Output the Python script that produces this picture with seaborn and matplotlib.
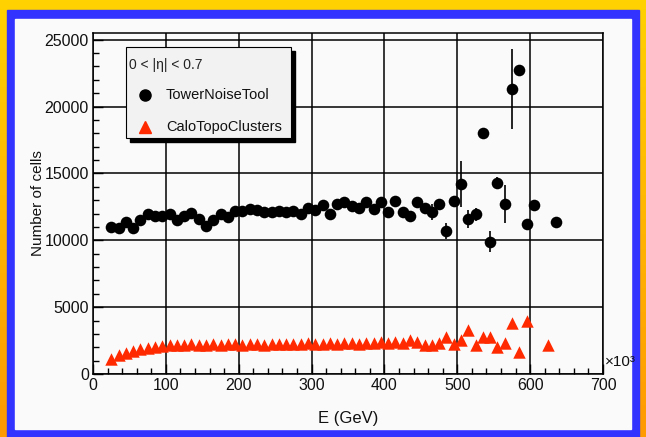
import numpy as np
import seaborn as sns
import matplotlib.pyplot as plt
from matplotlib.patches import Rectangle
from matplotlib.colors import LinearSegmentedColormap
from matplotlib.ticker import MultipleLocator

# ---------------------------------------
# Data
# ---------------------------------------
tower_e = [25, 35, 45, 55, 65, 75, 85, 95, 105, 115, 125, 135, 145, 155, 165,
           175, 185, 195, 205, 215, 225, 235, 245, 255, 265, 275, 285, 295,
           305, 315, 325, 335, 345, 355, 365, 375, 385, 395, 405, 415, 425,
           435, 445, 455, 465, 475, 485, 495, 505, 515, 525, 535, 545, 555,
           565, 575, 585, 595, 605, 635]
tower_n = [11000, 10900, 11400, 10950, 11500, 12000, 11800, 11850, 11950,
           11500, 11800, 12050, 11600, 11100, 11500, 12000, 11750, 12200,
           12200, 12350, 12250, 12100, 12150, 12200, 12100, 12200, 11950,
           12450, 12300, 12650, 12000, 12750, 12850, 12550, 12450, 12850,
           12350, 12850, 12100, 12900, 12100, 11850, 12850, 12450, 12100,
           12700, 10700, 12900, 14200, 11600, 11950, 18000, 9900, 14300,
           12700, 21300, 22700, 11200, 12650, 11400]
tower_err = [200, 200, 200, 200, 200, 200, 200, 200, 200, 200, 200, 200,
             200, 200, 200, 200, 200, 200, 200, 200, 200, 200, 200, 200,
             200, 200, 200, 200, 200, 200, 200, 200, 200, 200, 250, 250,
             250, 250, 300, 300, 300, 300, 350, 350, 600, 350, 600, 400,
             1700, 700, 500, 400, 800, 400, 1400, 3000, 300, 300, 300, 300]

topo_e = [25, 35, 45, 55, 65, 75, 85, 95, 105, 115, 125, 135, 145, 155, 165,
          175, 185, 195, 205, 215, 225, 235, 245, 255, 265, 275, 285, 295,
          305, 315, 325, 335, 345, 355, 365, 375, 385, 395, 405, 415, 425,
          435, 445, 455, 465, 475, 485, 495, 505, 515, 525, 535, 545, 555,
          565, 575, 585, 595, 625]
topo_n = [1150, 1450, 1600, 1700, 1850, 1950, 2000, 2080, 2150, 2200, 2180,
          2230, 2200, 2180, 2230, 2200, 2250, 2230, 2200, 2260, 2240, 2200,
          2270, 2250, 2230, 2280, 2250, 2300, 2260, 2280, 2300, 2270, 2320,
          2300, 2280, 2330, 2350, 2400, 2350, 2400, 2300, 2550, 2400, 2150,
          2200, 2300, 2800, 2250, 2550, 3300, 2150, 2750, 2750, 2000, 2350,
          3850, 1650, 4000, 2150]

region_label = "0 < |η| < 0.7"
series_names = ["TowerNoiseTool", "CaloTopoClusters"]

# ---------------------------------------
# Theme
# ---------------------------------------
sns.set_theme(style="white")
plt.rcParams["font.family"] = ["Liberation Sans", "DejaVu Sans"]

W, H = 646, 437
fig = plt.figure(figsize=(W / 100, H / 100), dpi=100)

# ---------------------------------------
# Canvas frame: yellow/orange gradient, blue border, white pad
# ---------------------------------------
bg = fig.add_axes([0, 0, 1, 1])
grad_cmap = LinearSegmentedColormap.from_list("frame", ["#ff9a00", "#ffd200"])
bg.imshow(np.linspace(0, 1, 256).reshape(-1, 1), cmap=grad_cmap, origin="lower",
          aspect="auto", extent=[0, 1, 0, 1])
bg.add_patch(Rectangle((7 / W, 0), 632 / W, 1 - 10 / H, color="#3333ff"))
bg.add_patch(Rectangle((15 / W, 1 - 429 / H), 616 / W, 410 / H, color="#fafafa"))
bg.set_xlim(0, 1)
bg.set_ylim(0, 1)
bg.axis("off")

# ---------------------------------------
# Main plot
# ---------------------------------------
ax = fig.add_axes([93 / W, 1 - 374 / H, 510 / W, 341 / H])
ax.set_facecolor("#fafafa")

ax.errorbar(tower_e, tower_n, yerr=tower_err, fmt="none", ecolor="black",
            elinewidth=1.2, capsize=0, zorder=3)
sns.scatterplot(x=tower_e, y=tower_n, ax=ax, marker="o", s=70, color="black",
                edgecolor="black", linewidth=0, zorder=4)
sns.scatterplot(x=topo_e, y=topo_n, ax=ax, marker="^", s=80, color="#ff2a00",
                edgecolor="#ff2a00", linewidth=0, zorder=4)

ax.set_xlim(0, 700)
ax.set_ylim(0, 25500)
ax.xaxis.set_major_locator(MultipleLocator(100))
ax.xaxis.set_minor_locator(MultipleLocator(20))
ax.yaxis.set_major_locator(MultipleLocator(5000))
ax.yaxis.set_minor_locator(MultipleLocator(1000))
ax.grid(True, which="major", color="black", linewidth=1.1)
ax.set_axisbelow(True)
for sp in ax.spines.values():
    sp.set_color("black")
    sp.set_linewidth(1.1)

ax.tick_params(which="major", direction="in", length=7, width=1,
               color="black", labelsize=11.5, labelcolor="#111111", pad=3)
ax.tick_params(which="minor", direction="in", length=4, width=1, color="black")
ax.tick_params(axis="x", which="both", bottom=True, top=False)
ax.tick_params(axis="y", which="both", left=True, right=False)

ax.set_xlabel("E (GeV)", fontsize=12, color="#111111")
ax.set_ylabel("Number of cells", fontsize=11, color="#111111")
ax.xaxis.set_label_coords(0.5, -0.108)
ax.yaxis.set_label_coords(-0.094, 0.5)

ax.text(1.003, 0.015, "×10³", transform=ax.transAxes, fontsize=11,
        ha="left", va="bottom", color="#111111")

# ---------------------------------------
# Legend box with ROOT-style shadow
# ---------------------------------------
bx0, bx1 = 0.0647, 0.388
by0, by1 = 0.692, 0.959
ax.add_patch(Rectangle((bx0 + 0.0078, by0 - 0.0117), bx1 - bx0, by1 - by0,
                       transform=ax.transAxes, facecolor="black",
                       edgecolor="black", zorder=8, clip_on=False))
ax.add_patch(Rectangle((bx0, by0), bx1 - bx0, by1 - by0,
                       transform=ax.transAxes, facecolor="#f2f2f2",
                       edgecolor="black", linewidth=0.8, zorder=9, clip_on=False))
ax.text(0.071, 0.906, region_label, transform=ax.transAxes, fontsize=10,
        ha="left", va="center", color="#222222", zorder=10)
ax.plot([0.102], [0.818], marker="o", markersize=8, color="black",
        transform=ax.transAxes, zorder=10, clip_on=False)
ax.plot([0.102], [0.724], marker="^", markersize=8.5, color="#ff2a00",
        transform=ax.transAxes, zorder=10, clip_on=False)
ax.text(0.143, 0.818, series_names[0], transform=ax.transAxes, fontsize=10.5,
        ha="left", va="center", color="#111111", zorder=10)
ax.text(0.143, 0.724, series_names[1], transform=ax.transAxes, fontsize=10.5,
        ha="left", va="center", color="#111111", zorder=10)

fig.savefig("out.png", dpi=100)
